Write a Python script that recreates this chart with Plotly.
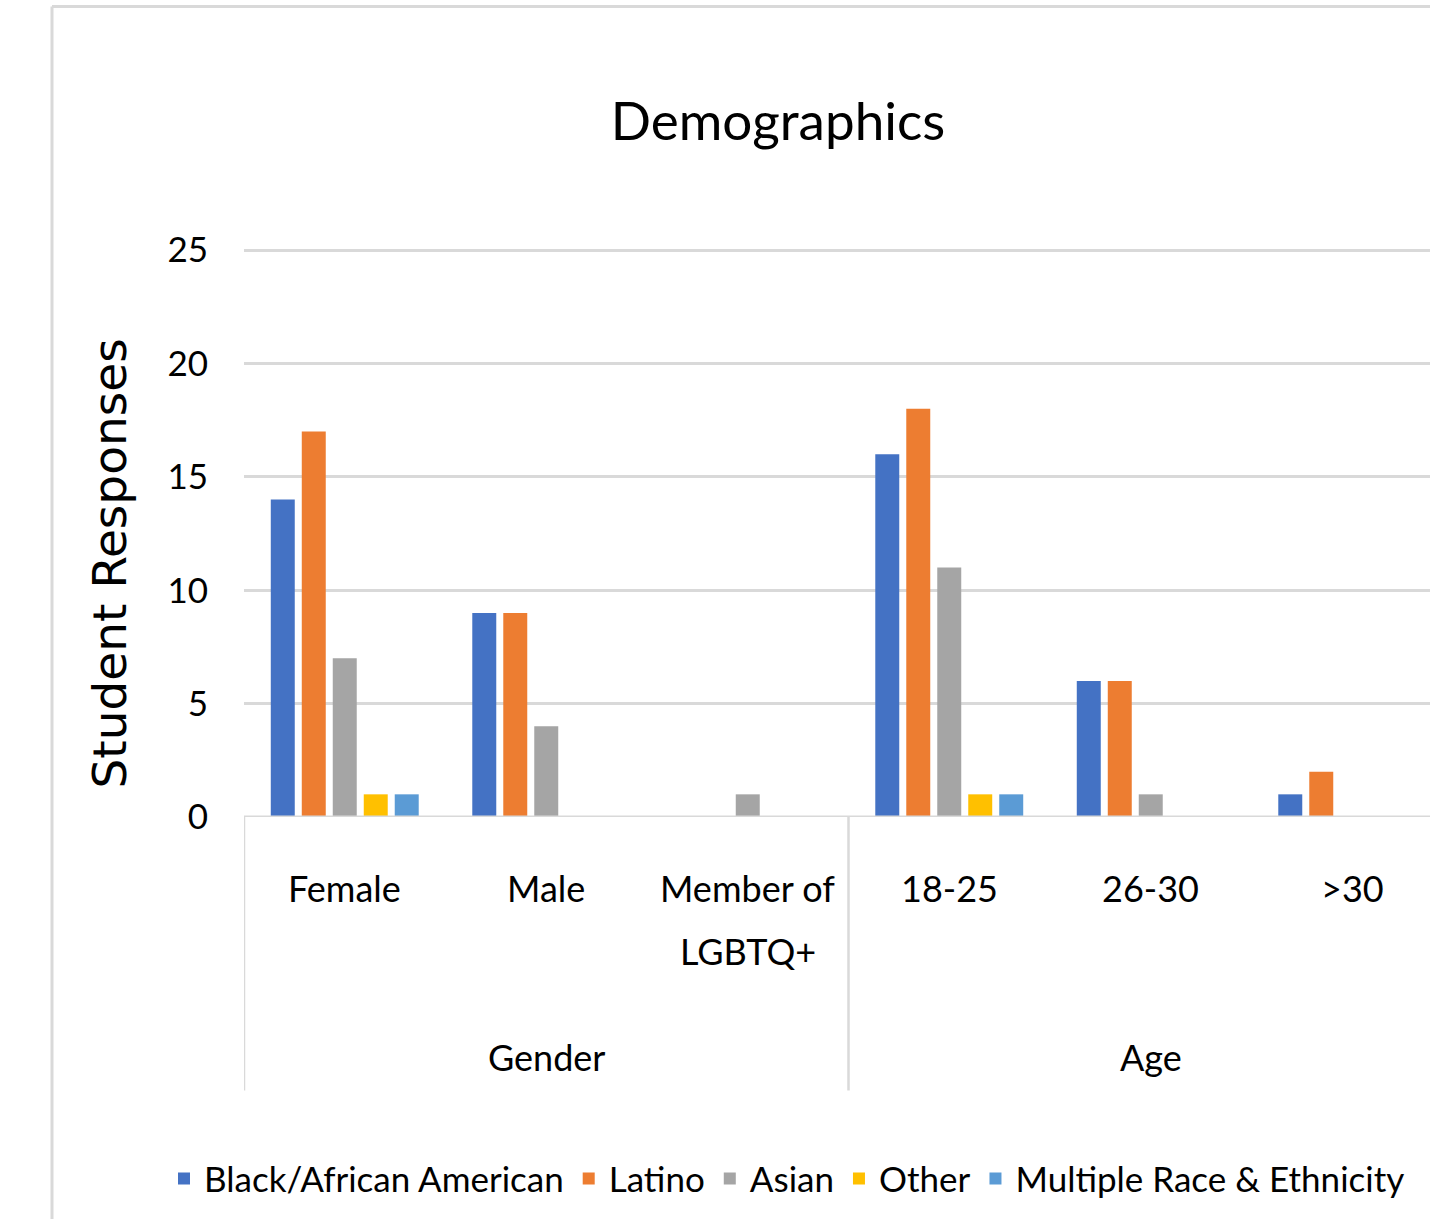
import plotly.graph_objects as go

categories = ["Female", "Male", "Member of<br>LGBTQ+", "18-25", "26-30", ">30"]
groups = ["Gender", "Age"]
group_centers = [1, 4]
series_names = ["Black/African American", "Latino", "Asian", "Other", "Multiple Race & Ethnicity"]
black_african_american = [14, 9, 0, 16, 6, 1]
latino = [17, 9, 0, 18, 6, 2]
asian = [7, 4, 1, 11, 1, 0]
other = [1, 0, 0, 1, 0, 0]
multiple_race = [1, 0, 0, 1, 0, 0]
series_values = [black_african_american, latino, asian, other, multiple_race]
colors = ["#4472C4", "#ED7D31", "#A5A5A5", "#FFC000", "#5B9BD5"]

W, H = 1430, 1219
PLOT_L = 244
T, B = 250, 402
PH = H - T - B
CAT_PX = 201.5
YMAX = 25.05
T_ADJ = T - (YMAX - 25) * PH / 25

def px_x(px):
    return px / W

def px_y(py):
    return (H - B - py) / PH

font_main = "Lato, sans-serif"
x_idx = list(range(len(categories)))

fig = go.Figure()
for name, vals, col in zip(series_names, series_values, colors):
    fig.add_trace(go.Bar(x=x_idx, y=vals, name=name, marker=dict(color=col, line=dict(width=0))))

x_max = -0.5 + (W - PLOT_L) / CAT_PX

fig.update_layout(
    width=W, height=H,
    margin=dict(l=0, r=0, t=T_ADJ, b=B, pad=0, autoexpand=False),
    paper_bgcolor="white", plot_bgcolor="white",
    barmode="group", bargap=0.231, bargroupgap=0.226,
    title=dict(text="Demographics", x=778 / W, xref="container", xanchor="center",
               y=1 - 121 / H, yref="container", yanchor="middle",
               font=dict(family=font_main, size=53, color="black")),
    xaxis=dict(domain=[PLOT_L / W, 1], range=[-0.5, x_max], showticklabels=False, showgrid=False,
               zeroline=False, showline=False, ticks="", fixedrange=True),
    yaxis=dict(range=[0, YMAX], dtick=5, showgrid=True, gridcolor="#d9d9d9", gridwidth=3,
               zeroline=False, showline=False, ticks="outside", ticklen=28,
               tickcolor="rgba(0,0,0,0)",
               tickfont=dict(family=font_main, size=35, color="black")),
    showlegend=True,
    legend=dict(orientation="h", x=px_x(787), xanchor="center", y=px_y(1178), yanchor="middle",
                font=dict(family=font_main, size=35, color="black"), traceorder="normal",
                bgcolor="rgba(0,0,0,0)"),
)

shapes = []
# outer frame
shapes.append(dict(type="line", xref="paper", yref="paper", x0=px_x(52), x1=px_x(52),
                   y0=px_y(8), y1=px_y(1225), line=dict(color="#d9d9d9", width=3)))
shapes.append(dict(type="line", xref="paper", yref="paper", x0=px_x(52), x1=px_x(1440),
                   y0=px_y(8), y1=px_y(8), line=dict(color="#d9d9d9", width=3)))
# baseline
shapes.append(dict(type="line", xref="paper", yref="y", x0=PLOT_L / W, x1=1.01, y0=0, y1=0,
                   line=dict(color="#d9d9d9", width=3)))
# group dividers
for xv in [-0.5, 2.5]:
    shapes.append(dict(type="line", xref="x", yref="paper", x0=xv, x1=xv, y0=0, y1=px_y(1090),
                       line=dict(color="#d9d9d9", width=2.5)))
fig.update_layout(shapes=shapes)

ann = []
LINE_PX = 63
for i, c in enumerate(categories):
    for j, line in enumerate(c.split("<br>")):
        ann.append(dict(x=i, xref="x", y=px_y(888 + j * LINE_PX), yref="paper", yanchor="middle",
                        text=line, showarrow=False,
                        font=dict(family=font_main, size=36, color="black")))
for g, gc in zip(groups, group_centers):
    ann.append(dict(x=gc, xref="x", y=px_y(1057), yref="paper", yanchor="middle", text=g,
                    showarrow=False, font=dict(family=font_main, size=36, color="black")))
ann.append(dict(x=px_x(110), xref="paper", y=px_y(564), yref="paper", text="Student Responses",
                textangle=-90, showarrow=False, xanchor="center", yanchor="middle",
                font=dict(family="DejaVu Sans", size=47, color="black")))
fig.update_layout(annotations=ann)

fig.write_html("out.html", config=dict(displayModeBar=False))
